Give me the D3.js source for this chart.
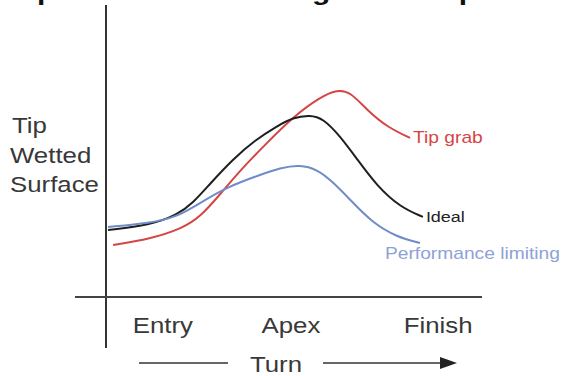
<!DOCTYPE html>
<html>
<head>
<meta charset="utf-8">
<script src="https://cdn.jsdelivr.net/npm/d3@7"></script>
<style>
  body { margin: 0; background: #fff; }
  svg { display: block; }
  text { font-family: "Liberation Sans", Arial, sans-serif; }
</style>
</head>
<body>
<div id="canvas"></div>
<script>
// DATA (phase 0-100 along the turn, wetted surface 0-100)
const phaseTicks = [17, 57, 103];
const phaseLabels = ["Entry", "Apex", "Finish"];

const idealX = [0, 13.1, 21.6, 26.6, 31.9, 39.1, 45.9, 52.8, 57.8, 63.1, 67.2, 72.5, 77.8, 84.1, 91.3, 98.4];
const idealY = [23.9, 25.7, 29.3, 33.6, 40.5, 49.3, 56.0, 61.0, 64.1, 65.0, 63.8, 57.5, 49.3, 39.6, 32.1, 28.6];

const grabX = [1.6, 13.1, 23.4, 28.8, 35, 41.3, 49.1, 57.8, 66.3, 71.6, 75.6, 80.9, 87.2, 94.4];
const grabY = [18.6, 20.7, 24.6, 28.6, 36.6, 45.2, 54.4, 64.3, 71.4, 74.0, 73.4, 66.8, 60.7, 56.8];

const limitX = [0, 13.1, 21.6, 28.8, 37.2, 47.5, 53.8, 60, 65.3, 70.3, 76.6, 82.8, 90.3, 97.5];
const limitY = [25, 26.4, 28.6, 33.6, 39.3, 43.6, 46.1, 47.2, 45.6, 41.1, 33.6, 26.4, 21.4, 19.3];

const seriesNames = ["Tip grab", "Ideal", "Performance limiting"];

// DIMENSIONS
const width = 568;
const height = 376;
const stretch = 1.2; // the original lettering is a bit wide

const x = d3.scaleLinear().domain([0, 100]).range([108, 428]);
const y = d3.scaleLinear().domain([0, 100]).range([297, 17]);

// CANVAS
const canvas = d3.select("#canvas")
  .append("svg")
  .attr("width", width)
  .attr("height", height);

// TITLE (mostly above the frame, only the descenders show)
canvas.append("text")
  .attr("transform", `translate(11,0) scale(1.25,1)`)
  .style("font-size", "24px")
  .style("font-weight", "bold")
  .attr("fill", "#111")
  .text("Tip wetted area during the turn phase");

// AXES
canvas.append("line")
  .attr("x1", 106).attr("x2", 106)
  .attr("y1", 5).attr("y2", 348)
  .attr("stroke", "#333").attr("stroke-width", 2);

canvas.append("line")
  .attr("x1", 75).attr("x2", 482)
  .attr("y1", y(0)).attr("y2", y(0))
  .attr("stroke", "#444").attr("stroke-width", 2);

const xAxis = canvas.append("g")
  .attr("transform", `translate(0,${y(0)})`)
  .call(d3.axisBottom(x)
    .tickValues(phaseTicks)
    .tickSize(0)
    .tickPadding(0)
    .tickFormat((d, i) => phaseLabels[i]));

xAxis.select(".domain").remove();
xAxis.selectAll("text")
  .attr("y", 36)
  .attr("dy", null)
  .attr("transform", `scale(${stretch},1)`)
  .style("font-size", "21.5px")
  .style("font-family", "Liberation Sans, Arial, sans-serif")
  .attr("fill", "#383838");

// Y LABEL
const yLabel = ["Tip", "Wetted", "Surface"];
canvas.selectAll(".ylab")
  .data(yLabel)
  .join("text")
  .attr("class", "ylab")
  .attr("transform", (d, i) => `translate(${i === 0 ? 12 : 10},${133 + i * 29.5}) scale(${stretch},1)`)
  .style("font-size", "21.5px")
  .attr("fill", "#383838")
  .text(d => d);

// TURN ARROW
canvas.append("line")
  .attr("x1", 139).attr("x2", 228)
  .attr("y1", 363).attr("y2", 363)
  .attr("stroke", "#333").attr("stroke-width", 1.5);

canvas.append("line")
  .attr("x1", 323).attr("x2", 444)
  .attr("y1", 363).attr("y2", 363)
  .attr("stroke", "#333").attr("stroke-width", 1.5);

canvas.append("path")
  .attr("d", "M440,357 L457,363 L440,369 Z")
  .attr("fill", "#222");

canvas.append("text")
  .attr("transform", `translate(276,372) scale(${stretch},1)`)
  .attr("text-anchor", "middle")
  .style("font-size", "21.5px")
  .attr("fill", "#383838")
  .text("Turn");

// CURVES
const series = [
  { name: seriesNames[0], xs: grabX, ys: grabY, color: "#d64545", dx: 3, dy: 5, size: 16, labelColor: "#d64545" },
  { name: seriesNames[1], xs: idealX, ys: idealY, color: "#1f1f1f", dx: 3, dy: 5, size: 15, labelColor: "#222" },
  { name: seriesNames[2], xs: limitX, ys: limitY, color: "#6f8cc8", dx: -35, dy: 16, size: 16, labelColor: "#8ea2d8" }
];

// basis smooths out the hand-read wobble
const line = d3.line()
  .x(d => x(d[0]))
  .y(d => y(d[1]))
  .curve(d3.curveBasis);

const plot = canvas.append("g");

plot.selectAll("path")
  .data(series)
  .join("path")
  .attr("d", s => line(d3.zip(s.xs, s.ys)))
  .attr("fill", "none")
  .attr("stroke", s => s.color)
  .attr("stroke-width", 2);

plot.selectAll("text")
  .data(series)
  .join("text")
  .attr("transform", s => {
    const n = s.xs.length - 1;
    return `translate(${x(s.xs[n]) + s.dx},${y(s.ys[n]) + s.dy}) scale(${stretch},1)`;
  })
  .style("font-size", s => s.size + "px")
  .attr("fill", s => s.labelColor)
  .text(s => s.name);
</script>
</body>
</html>
